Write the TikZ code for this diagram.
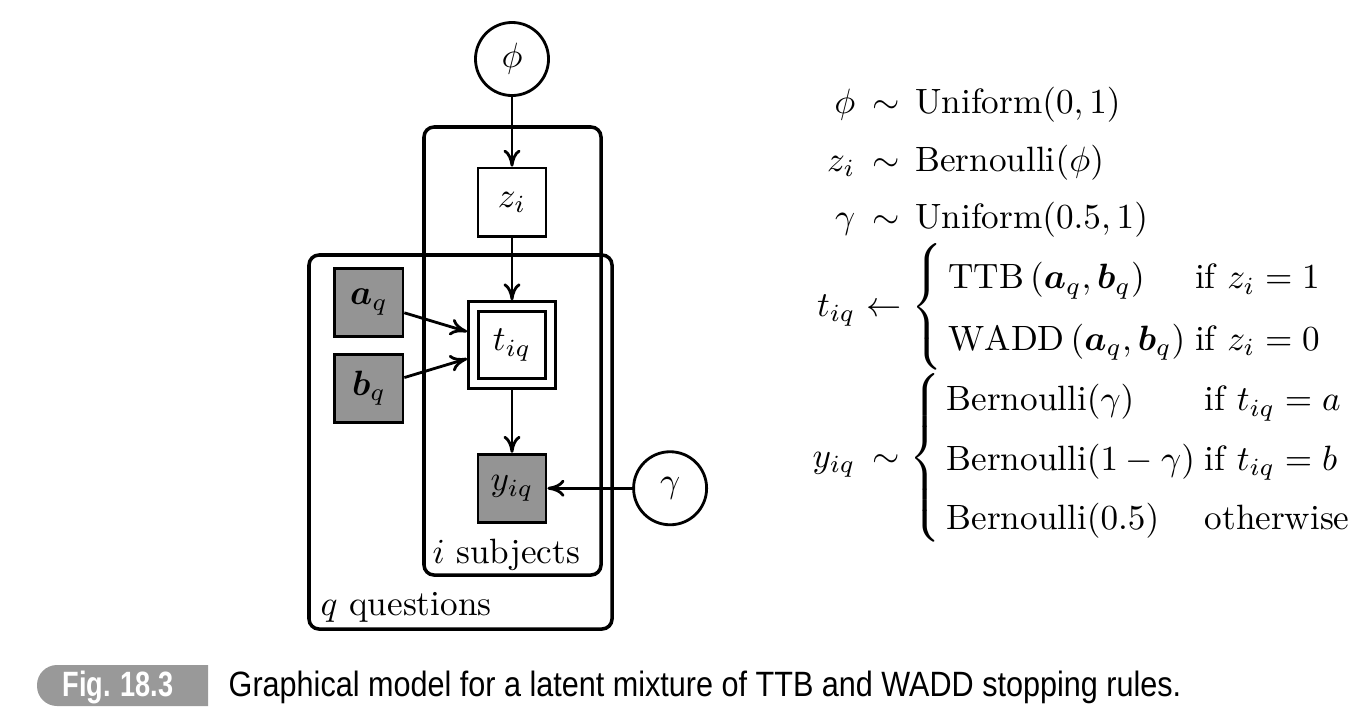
\documentclass[tikz,border=0pt]{standalone}
\usepackage{amsmath}
\usepackage{bm}
\usepackage{graphicx}
\usepackage{fontspec}
\newfontfamily\capfont{Liberation Sans}
\usetikzlibrary{positioning,arrows.meta}
\definecolor{obsgray}{gray}{0.58}
\definecolor{tabgray}{gray}{0.6}

\begin{document}
\begin{tikzpicture}[x=0.01cm, y=-0.01cm, node distance=1.43cm,
    latent/.style = {draw, thick, circle, minimum size=0.73cm, inner sep=0pt},
    det/.style = {draw, thick, rectangle, minimum size=0.68cm, inner sep=0pt},
    obs/.style = {det, fill=obsgray},
    plate/.style = {draw, line width=1pt, rounded corners=0.1cm},
    edge/.style = {-{To[length=1.7mm, width=1.7mm]}, thick},
    eq/.style = {inner sep=0pt}]
    \useasboundingbox (0,0) rectangle (1370,724);
    % plates
    \draw[plate] (424,127) rectangle (601,575);
    \draw[plate] (309,255) rectangle (612,629);
    \node[eq, anchor=base west] (subj) at (432,563) {$i$ subjects};
    \node[eq, anchor=base west] (ques) at (320,615) {$q$ questions};
    % nodes
    \node[latent] (phi) at (512,59) {$\phi$};
    \node[det] (z) [below of=phi] {$z_i$};
    \node[det, double, double distance=0.07cm, minimum size=0.77cm, outer sep=0.063cm] (t) [below of=z] {$t_{iq}$};
    \node[obs] (y) [below of=t] {$y_{iq}$};
    \node[latent] (g) [right of=y, node distance=1.58cm] {$\gamma$};
    \node[obs] (a) [left of=t, yshift=0.43cm] {$\bm{a}_q$};
    \node[obs] (b) [left of=t, yshift=-0.43cm] {$\bm{b}_q$};
    % edges
    \draw[edge] (phi) -- (z);
    \draw[edge] (z) -- (t);
    \draw[edge] (a) -- (t);
    \draw[edge] (b) -- (t);
    \draw[edge] (t) -- (y);
    \draw[edge] (g) -- (y);
    % model
    \node[eq, anchor=base east] (lphi) at (856,113) {$\phi$};
    \node[eq, anchor=base west] (rphi) at (856,113) {${}\,\sim\, \mathrm{Uniform}(0,1)$};
    \node[eq, anchor=base east] (lz) at (856,171) {$z_i$};
    \node[eq, anchor=base west] (rz) at (856,171) {${}\,\sim\, \mathrm{Bernoulli}(\phi)$};
    \node[eq, anchor=base east] (lg) at (856,228) {$\gamma$};
    \node[eq, anchor=base west] (rg) at (856,228) {${}\,\sim\, \mathrm{Uniform}(0.5,1)$};
    \node[eq, anchor=base east] (lt) at (856,316) {$t_{iq}$};
    \node[eq, anchor=base west] (rt) at (856,316) {\def\arraystretch{1.45}$%
        {}\leftarrow \left\{\begin{array}{@{\,}l@{\;}l@{}}
        \mathrm{TTB}\,(\bm{a}_q,\bm{b}_q) & \text{if } z_i=1\\
        \mathrm{WADD}\,(\bm{a}_q,\bm{b}_q) & \text{if } z_i=0
        \end{array}\right.$};
    \node[eq, anchor=base east] (ly) at (856,467) {$y_{iq}$};
    \node[eq, anchor=base west] (ry) at (856,467) {\def\arraystretch{1.4}$%
        {}\,\sim \left\{\begin{array}{@{\,}l@{\;}l@{}}
        \mathrm{Bernoulli}(\gamma) & \text{if } t_{iq}=a\\
        \mathrm{Bernoulli}(1-\gamma) & \text{if } t_{iq}=b\\
        \mathrm{Bernoulli}(0.5) & \text{otherwise}
        \end{array}\right.$};
    % caption
    \fill[tabgray] (208,706) -- (208,665) [rounded corners=0.2cm] -- (37,665) -- (37,706) [sharp corners] -- cycle;
    \node[eq, anchor=base, text=white] (fig) at (118,696) {\capfont\bfseries\fontsize{10}{12}\selectfont\resizebox{1.11cm}{\height}{Fig. 18.3}};
    \node[eq, anchor=base west] (cap) at (228,696) {\capfont\fontsize{10}{12}\selectfont\resizebox{9.52cm}{\height}{Graphical model for a latent mixture of TTB and WADD stopping rules.}};
\end{tikzpicture}
\end{document}
